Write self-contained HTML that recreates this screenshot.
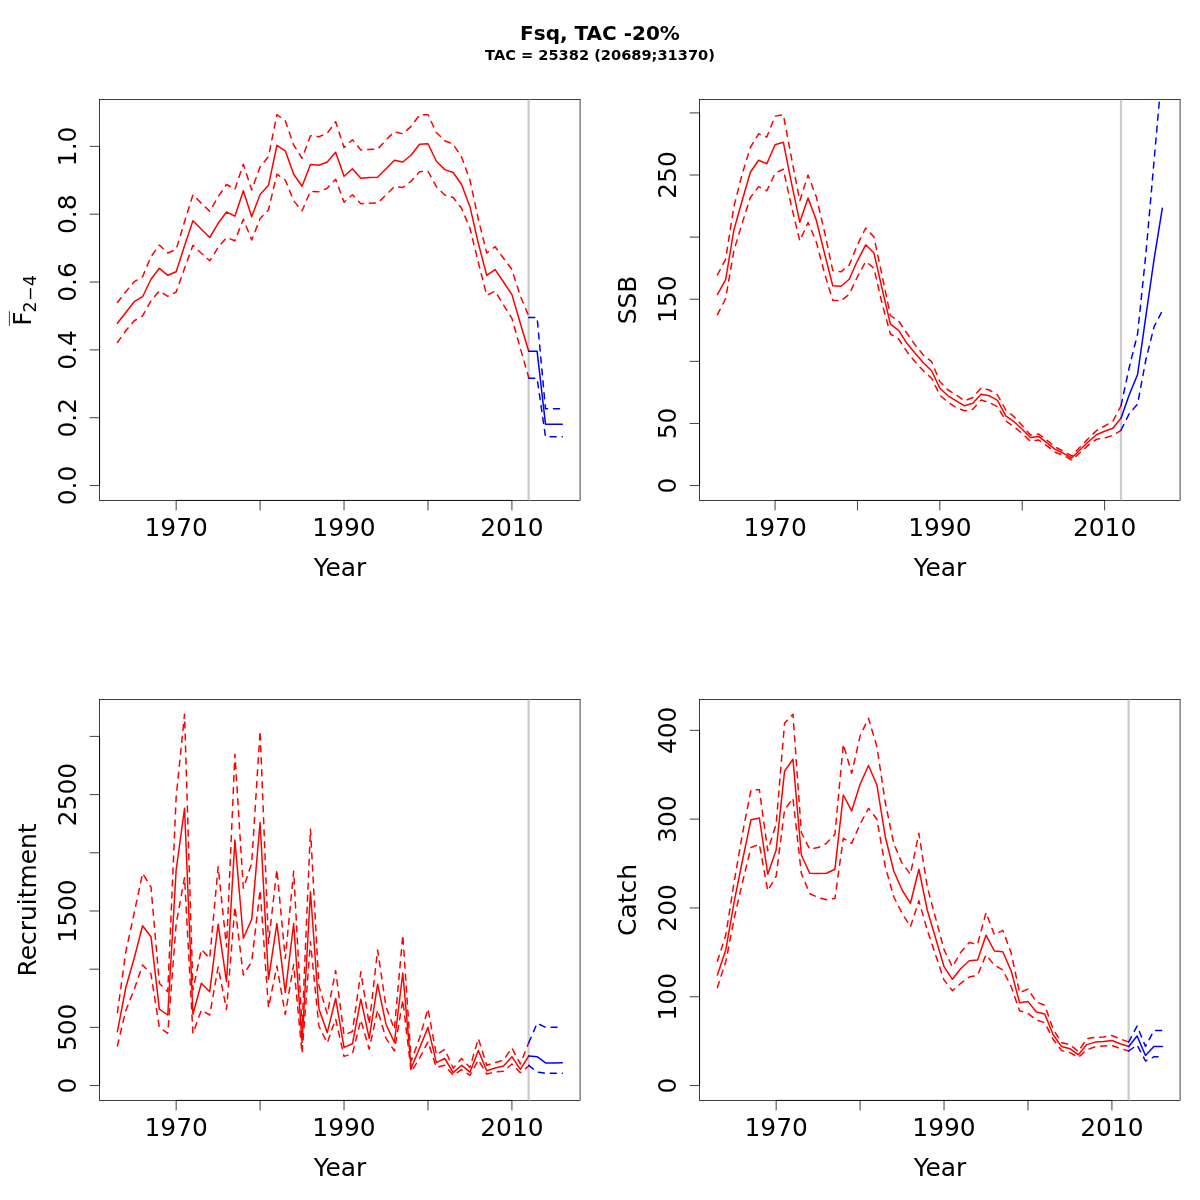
<!DOCTYPE html>
<html><head><meta charset="utf-8"><title>Fsq, TAC -20%</title>
<style>
html,body{margin:0;padding:0;background:#fff;}
svg{display:block;font-family:"DejaVu Sans","Liberation Sans",sans-serif;}
.box{fill:none;stroke:#000;stroke-width:.75;}
.tk{stroke:#000;stroke-width:.75;fill:none;}
.r,.rd,.b,.bd{fill:none;stroke-width:1.5;stroke-linejoin:round;stroke-linecap:round;}
.r,.rd{stroke:#ff0000;}
.b,.bd{stroke:#0000ff;}
.rd,.bd{stroke-dasharray:6 6;}
.v{stroke:#cccccc;stroke-width:2.25;}
.ax{font-size:24.9px;fill:#000;text-anchor:middle;}
.t1{font-size:20px;font-weight:bold;text-anchor:middle;}
.t2{font-size:14.6px;font-weight:bold;text-anchor:middle;}
</style></head><body>
<svg width="1200" height="1200" viewBox="0 0 1200 1200">
<rect x="0" y="0" width="1200" height="1200" fill="#ffffff"/>
<text class="t1" x="600" y="40">Fsq, TAC -20%</text>
<text class="t2" x="600" y="59.5">TAC = 25382 (20689;31370)</text>

<g>
<clipPath id="cpF"><rect x="99.60" y="99.60" width="480.48" height="400.8"/></clipPath>
<rect class="box" x="99.60" y="99.60" width="480.48" height="400.8"/>
<path class="tk" d="M176.16 500.40H511.92M176.16 500.40v9.96M260.10 500.40v9.96M344.04 500.40v9.96M427.98 500.40v9.96M511.92 500.40v9.96"/>
<text class="ax" x="176.16" y="536.1">1970</text>
<text class="ax" x="344.04" y="536.1">1990</text>
<text class="ax" x="511.92" y="536.1">2010</text>
<text class="ax" x="340" y="575.8">Year</text>
<path class="tk" d="M99.60 146.36V485.56M99.60 485.56h-9.96M99.60 417.72h-9.96M99.60 349.88h-9.96M99.60 282.04h-9.96M99.60 214.20h-9.96M99.60 146.36h-9.96"/>
<text class="ax" transform="translate(76 485.56) rotate(-90)">0.0</text>
<text class="ax" transform="translate(76 417.72) rotate(-90)">0.2</text>
<text class="ax" transform="translate(76 349.88) rotate(-90)">0.4</text>
<text class="ax" transform="translate(76 282.04) rotate(-90)">0.6</text>
<text class="ax" transform="translate(76 214.20) rotate(-90)">0.8</text>
<text class="ax" transform="translate(76 146.36) rotate(-90)">1.0</text>
<g transform="translate(31 300) rotate(-90)"><text class="ax" style="text-anchor:start"><tspan x="-25.8">F</tspan><tspan x="-12.6" dy="5" style="font-size:17.4px;letter-spacing:.5px">2−4</tspan></text><line x1="-25.8" x2="-11.2" y1="-21.6" y2="-21.6" stroke="#000" stroke-width=".75"/></g>
<g clip-path="url(#cpF)">
<line class="v" x1="528.61" x2="528.61" y1="99.60" y2="500.40"/>
<polyline class="r" points="117.40,323.30 125.79,312.50 134.19,301.70 142.58,296.70 150.98,279.20 159.37,268.30 167.76,275.30 176.16,271.70 184.55,245.80 192.95,220.80 201.34,229.20 209.73,237.50 218.13,223.30 226.52,212.00 234.92,216.20 243.31,190.80 251.70,216.70 260.10,194.50 268.49,185.30 276.89,145.30 285.28,150.80 293.67,174.20 302.07,186.30 310.46,164.50 318.86,165.30 327.25,162.00 335.64,152.20 344.04,176.20 352.43,168.70 360.83,178.30 369.22,177.50 377.61,177.20 386.01,168.70 394.40,160.30 402.80,162.00 411.19,155.00 419.58,144.20 427.98,143.70 436.37,161.30 444.77,169.60 453.16,172.50 461.55,184.50 469.95,206.70 478.34,243.30 486.74,275.40 495.13,269.60 503.52,282.00 511.92,294.60 520.31,323.30 528.71,351.30"/>
<polyline class="rd" points="117.40,342.50 125.79,330.80 134.19,320.80 142.58,315.80 150.98,300.80 159.37,290.80 167.76,296.30 176.16,292.00 184.55,268.30 192.95,245.30 201.34,253.30 209.73,260.80 218.13,247.50 226.52,237.50 234.92,240.80 243.31,219.20 251.70,240.00 260.10,218.50 268.49,210.00 276.89,174.20 285.28,180.00 293.67,200.80 302.07,210.80 310.46,191.30 318.86,191.70 327.25,188.30 335.64,179.20 344.04,202.20 352.43,194.70 360.83,203.70 369.22,203.30 377.61,203.00 386.01,195.00 394.40,186.70 402.80,187.50 411.19,181.20 419.58,171.70 427.98,171.20 436.37,186.70 444.77,195.00 453.16,197.50 461.55,208.30 469.95,228.30 478.34,262.50 486.74,295.30 495.13,291.20 503.52,305.00 511.92,318.30 520.31,348.30 528.71,377.50"/>
<polyline class="rd" points="117.40,302.50 125.79,291.70 134.19,281.70 142.58,276.70 150.98,256.70 159.37,245.00 167.76,253.00 176.16,249.50 184.55,221.70 192.95,194.70 201.34,203.30 209.73,211.30 218.13,196.70 226.52,184.50 234.92,189.20 243.31,164.20 251.70,190.00 260.10,166.70 268.49,156.70 276.89,114.70 285.28,120.80 293.67,145.00 302.07,158.30 310.46,135.80 318.86,136.70 327.25,133.30 335.64,121.70 344.04,147.50 352.43,139.70 360.83,150.00 369.22,149.50 377.61,149.20 386.01,140.00 394.40,131.70 402.80,133.80 411.19,126.30 419.58,115.00 427.98,114.70 436.37,132.50 444.77,140.80 453.16,144.20 461.55,157.00 469.95,180.00 478.34,219.20 486.74,253.00 495.13,246.70 503.52,258.30 511.92,269.50 520.31,296.00 528.71,316.00"/>
<polyline class="b" points="528.71,351.20 537.10,351.20 545.49,424.20 553.89,424.20 562.28,424.20"/>
<polyline class="bd" points="528.71,378.30 537.10,378.30 545.49,436.70 553.89,436.70 562.28,436.70"/>
<polyline class="bd" points="528.71,317.50 537.10,317.50 545.49,408.70 553.89,408.70 562.28,408.70"/>
</g>
</g>
<g>
<clipPath id="cpSSB"><rect x="699.60" y="99.60" width="480.48" height="400.8"/></clipPath>
<rect class="box" x="699.60" y="99.60" width="480.48" height="400.8"/>
<path class="tk" d="M775.07 500.40H1104.62M775.07 500.40v9.96M857.46 500.40v9.96M939.84 500.40v9.96M1022.23 500.40v9.96M1104.62 500.40v9.96"/>
<text class="ax" x="775.07" y="536.1">1970</text>
<text class="ax" x="939.84" y="536.1">1990</text>
<text class="ax" x="1104.62" y="536.1">2010</text>
<text class="ax" x="940" y="575.8">Year</text>
<path class="tk" d="M699.60 112.90V485.56M699.60 485.56h-9.96M699.60 423.45h-9.96M699.60 361.34h-9.96M699.60 299.23h-9.96M699.60 237.12h-9.96M699.60 175.01h-9.96M699.60 112.90h-9.96"/>
<text class="ax" transform="translate(676 485.56) rotate(-90)">0</text>
<text class="ax" transform="translate(676 423.45) rotate(-90)">50</text>
<text class="ax" transform="translate(676 299.23) rotate(-90)">150</text>
<text class="ax" transform="translate(676 175.01) rotate(-90)">250</text>
<text class="ax" transform="translate(636 300) rotate(-90)">SSB</text>
<g clip-path="url(#cpSSB)">
<line class="v" x1="1121.00" x2="1121.00" y1="99.60" y2="500.40"/>
<polyline class="r" points="717.40,294.70 725.64,279.70 733.88,230.00 742.12,200.80 750.35,172.20 758.59,160.30 766.83,163.80 775.07,144.70 783.31,142.20 791.55,183.30 799.79,222.20 808.03,198.00 816.26,220.00 824.50,253.30 832.74,285.80 840.98,286.30 849.22,279.20 857.46,260.80 865.70,244.80 873.94,253.00 882.17,289.00 890.41,324.20 898.65,330.40 906.89,343.30 915.13,353.30 923.37,362.80 931.61,370.80 939.84,388.30 948.08,395.80 956.32,400.80 964.56,405.80 972.80,403.30 981.04,394.20 989.28,395.80 997.52,400.30 1005.75,415.80 1013.99,421.70 1022.23,429.20 1030.47,437.50 1038.71,436.40 1046.95,442.90 1055.19,449.40 1063.43,453.30 1071.66,458.00 1079.90,450.00 1088.14,442.00 1096.38,434.70 1104.62,431.30 1112.86,428.30 1121.10,418.00"/>
<polyline class="rd" points="717.40,314.70 725.64,298.60 733.88,250.80 742.12,223.30 750.35,197.50 758.59,186.70 766.83,190.80 775.07,173.30 783.31,169.20 791.55,206.70 799.79,240.80 808.03,222.50 816.26,241.70 824.50,273.30 832.74,300.20 840.98,300.80 849.22,294.20 857.46,276.70 865.70,261.50 873.94,268.30 882.17,304.00 890.41,334.00 898.65,339.00 906.89,351.70 915.13,361.70 923.37,370.80 931.61,378.30 939.84,395.00 948.08,402.50 956.32,407.50 964.56,410.80 972.80,409.20 981.04,400.00 989.28,402.50 997.52,406.70 1005.75,420.80 1013.99,426.70 1022.23,433.50 1030.47,441.30 1038.71,440.00 1046.95,445.90 1055.19,452.20 1063.43,455.30 1071.66,460.00 1079.90,452.70 1088.14,445.30 1096.38,439.30 1104.62,438.00 1112.86,435.30 1121.10,430.30"/>
<polyline class="rd" points="717.40,275.00 725.64,259.20 733.88,206.70 742.12,174.20 750.35,147.50 758.59,133.80 766.83,137.00 775.07,116.20 783.31,114.70 791.55,158.30 799.79,200.80 808.03,175.00 816.26,196.70 824.50,231.70 832.74,270.40 840.98,271.80 849.22,265.00 857.46,244.80 865.70,228.00 873.94,237.00 882.17,276.00 890.41,315.50 898.65,321.00 906.89,333.30 915.13,345.00 923.37,355.00 931.61,361.70 939.84,381.70 948.08,390.00 956.32,395.00 964.56,400.80 972.80,397.50 981.04,388.00 989.28,390.00 997.52,395.00 1005.75,410.00 1013.99,416.70 1022.23,425.50 1030.47,435.10 1038.71,434.00 1046.95,440.30 1055.19,447.00 1063.43,451.30 1071.66,456.00 1079.90,447.30 1088.14,438.70 1096.38,430.70 1104.62,426.00 1112.86,421.30 1121.10,405.60"/>
<polyline class="b" points="1121.10,418.00 1129.34,394.50 1137.57,374.50 1145.81,316.70 1154.05,259.40 1162.29,208.30"/>
<polyline class="bd" points="1121.10,430.00 1129.34,413.50 1137.57,404.20 1145.81,360.00 1154.05,326.70 1162.29,310.80"/>
<polyline class="bd" points="1121.10,405.30 1129.34,367.00 1137.57,334.00 1145.81,254.60 1154.05,161.00 1162.29,67.40"/>
</g>
</g>
<g>
<clipPath id="cpR"><rect x="99.60" y="699.60" width="480.48" height="400.8"/></clipPath>
<rect class="box" x="99.60" y="699.60" width="480.48" height="400.8"/>
<path class="tk" d="M176.16 1100.40H511.92M176.16 1100.40v9.96M260.10 1100.40v9.96M344.04 1100.40v9.96M427.98 1100.40v9.96M511.92 1100.40v9.96"/>
<text class="ax" x="176.16" y="1136.1">1970</text>
<text class="ax" x="344.04" y="1136.1">1990</text>
<text class="ax" x="511.92" y="1136.1">2010</text>
<text class="ax" x="340" y="1175.8">Year</text>
<path class="tk" d="M99.60 736.42V1085.56M99.60 1085.56h-9.96M99.60 1027.37h-9.96M99.60 969.18h-9.96M99.60 910.99h-9.96M99.60 852.80h-9.96M99.60 794.61h-9.96M99.60 736.42h-9.96"/>
<text class="ax" transform="translate(76 1085.56) rotate(-90)">0</text>
<text class="ax" transform="translate(76 1027.37) rotate(-90)">500</text>
<text class="ax" transform="translate(76 910.99) rotate(-90)">1500</text>
<text class="ax" transform="translate(76 794.61) rotate(-90)">2500</text>
<text class="ax" transform="translate(36 900) rotate(-90)">Recruitment</text>
<g clip-path="url(#cpR)">
<line class="v" x1="528.61" x2="528.61" y1="699.60" y2="1100.40"/>
<polyline class="r" points="117.40,1031.70 125.79,987.50 134.19,958.30 142.58,925.80 150.98,936.70 159.37,1009.20 167.76,1015.00 176.16,870.00 184.55,808.30 192.95,1014.20 201.34,983.30 209.73,991.70 218.13,924.20 226.52,981.70 234.92,840.00 243.31,938.30 251.70,919.20 260.10,822.50 268.49,979.20 276.89,923.60 285.28,992.30 293.67,923.50 302.07,1042.50 310.46,891.70 318.86,1008.80 327.25,1032.60 335.64,998.50 344.04,1047.40 352.43,1043.80 360.83,999.20 369.22,1038.30 377.61,984.20 386.01,1024.20 394.40,1042.50 402.80,973.00 411.19,1068.30 419.58,1048.00 427.98,1027.40 436.37,1062.60 444.77,1058.50 453.16,1072.60 461.55,1065.20 469.95,1072.20 478.34,1050.50 486.74,1070.70 495.13,1068.00 503.52,1066.00 511.92,1056.70 520.31,1069.30 528.71,1056.00"/>
<polyline class="rd" points="117.40,1045.80 125.79,1010.50 134.19,989.50 142.58,965.00 150.98,974.00 159.37,1027.50 167.76,1033.30 176.16,924.00 184.55,877.50 192.95,1033.50 201.34,1010.00 209.73,1015.00 218.13,967.00 226.52,1009.50 234.92,906.70 243.31,975.00 251.70,961.70 260.10,890.00 268.49,1007.50 276.89,966.00 285.28,1014.50 293.67,964.50 302.07,1053.30 310.46,941.70 318.86,1026.00 327.25,1043.00 335.64,1019.00 344.04,1056.40 352.43,1053.80 360.83,1020.00 369.22,1049.20 377.61,1010.00 386.01,1038.30 394.40,1050.80 402.80,1000.00 411.19,1071.70 419.58,1058.30 427.98,1041.80 436.37,1067.40 444.77,1065.20 453.16,1075.20 461.55,1069.60 469.95,1075.30 478.34,1060.00 486.74,1074.00 495.13,1072.00 503.52,1071.30 511.92,1064.00 520.31,1072.70 528.71,1066.00"/>
<polyline class="rd" points="117.40,1012.50 125.79,952.00 134.19,913.00 142.58,873.30 150.98,887.00 159.37,983.30 167.76,991.70 176.16,797.00 184.55,714.20 192.95,990.00 201.34,949.50 209.73,958.30 218.13,866.70 226.52,947.00 234.92,754.20 243.31,888.30 251.70,863.30 260.10,730.80 268.49,943.50 276.89,869.50 285.28,958.50 293.67,871.30 302.07,1027.50 310.46,829.20 318.86,985.50 327.25,1014.00 335.64,970.50 344.04,1035.00 352.43,1031.50 360.83,971.80 369.22,1024.20 377.61,950.00 386.01,1006.70 394.40,1029.20 402.80,935.00 411.19,1061.00 419.58,1038.00 427.98,1008.90 436.37,1054.80 444.77,1049.30 453.16,1068.20 461.55,1058.50 469.95,1067.50 478.34,1038.50 486.74,1065.30 495.13,1062.70 503.52,1060.00 511.92,1048.00 520.31,1064.00 528.71,1042.70"/>
<polyline class="b" points="528.71,1056.00 537.10,1056.70 545.49,1062.90 553.89,1062.90 562.28,1062.70"/>
<polyline class="bd" points="528.71,1065.30 537.10,1072.00 545.49,1073.30 553.89,1073.30 562.28,1073.30"/>
<polyline class="bd" points="528.71,1042.70 537.10,1023.30 545.49,1027.30 553.89,1027.30 562.28,1027.30"/>
</g>
</g>
<g>
<clipPath id="cpC"><rect x="699.60" y="699.60" width="480.48" height="400.8"/></clipPath>
<rect class="box" x="699.60" y="699.60" width="480.48" height="400.8"/>
<path class="tk" d="M776.16 1100.40H1111.92M776.16 1100.40v9.96M860.10 1100.40v9.96M944.04 1100.40v9.96M1027.98 1100.40v9.96M1111.92 1100.40v9.96"/>
<text class="ax" x="776.16" y="1136.1">1970</text>
<text class="ax" x="944.04" y="1136.1">1990</text>
<text class="ax" x="1111.92" y="1136.1">2010</text>
<text class="ax" x="940" y="1175.8">Year</text>
<path class="tk" d="M699.60 730.32V1085.56M699.60 1085.56h-9.96M699.60 996.75h-9.96M699.60 907.94h-9.96M699.60 819.13h-9.96M699.60 730.32h-9.96"/>
<text class="ax" transform="translate(676 1085.56) rotate(-90)">0</text>
<text class="ax" transform="translate(676 996.75) rotate(-90)">100</text>
<text class="ax" transform="translate(676 907.94) rotate(-90)">200</text>
<text class="ax" transform="translate(676 819.13) rotate(-90)">300</text>
<text class="ax" transform="translate(676 730.32) rotate(-90)">400</text>
<text class="ax" transform="translate(636 900) rotate(-90)">Catch</text>
<g clip-path="url(#cpC)">
<line class="v" x1="1128.61" x2="1128.61" y1="699.60" y2="1100.40"/>
<polyline class="r" points="717.40,975.00 725.79,950.00 734.19,901.70 742.58,860.00 750.98,819.70 759.37,818.00 767.76,874.20 776.16,850.00 784.55,771.30 792.95,759.20 801.34,855.00 809.73,873.20 818.13,873.60 826.52,873.20 834.92,869.20 843.31,795.00 851.70,810.80 860.10,784.20 868.49,765.50 876.89,785.00 885.28,836.70 893.67,870.80 902.07,890.00 910.46,903.30 918.86,869.20 927.25,910.00 935.64,938.30 944.04,966.70 952.43,979.30 960.83,968.50 969.22,960.80 977.61,960.00 986.01,935.20 994.40,951.00 1002.80,951.70 1011.19,971.00 1019.58,1002.70 1027.98,1001.60 1036.37,1012.00 1044.77,1014.00 1053.16,1034.70 1061.55,1046.60 1069.95,1048.70 1078.34,1054.80 1086.74,1044.60 1095.13,1042.10 1103.52,1041.50 1111.92,1040.50 1120.31,1043.80 1128.71,1046.50"/>
<polyline class="rd" points="717.40,987.50 725.79,961.70 734.19,918.30 742.58,882.00 750.98,847.50 759.37,844.20 767.76,890.80 776.16,876.20 784.55,810.00 792.95,798.30 801.34,873.30 809.73,893.70 818.13,897.50 826.52,899.80 834.92,898.50 843.31,838.30 851.70,843.30 860.10,824.20 868.49,808.30 876.89,819.20 885.28,866.50 893.67,896.70 902.07,913.30 910.46,926.70 918.86,900.80 927.25,930.00 935.64,955.00 944.04,980.00 952.43,990.70 960.83,983.30 969.22,977.00 977.61,975.20 986.01,954.80 994.40,965.20 1002.80,970.00 1011.19,986.70 1019.58,1010.70 1027.98,1013.30 1036.37,1020.00 1044.77,1022.70 1053.16,1039.30 1061.55,1050.60 1069.95,1052.60 1078.34,1057.40 1086.74,1049.70 1095.13,1046.80 1103.52,1046.00 1111.92,1045.50 1120.31,1048.50 1128.71,1051.00"/>
<polyline class="rd" points="717.40,961.30 725.79,935.00 734.19,881.70 742.58,833.00 750.98,790.00 759.37,789.70 767.76,850.80 776.16,824.00 784.55,723.30 792.95,714.20 801.34,832.50 809.73,849.20 818.13,847.50 826.52,843.30 834.92,834.20 843.31,744.20 851.70,773.30 860.10,735.80 868.49,718.30 876.89,746.70 885.28,802.50 893.67,843.30 902.07,863.30 910.46,874.20 918.86,833.30 927.25,886.70 935.64,918.30 944.04,949.60 952.43,967.00 960.83,952.20 969.22,942.60 977.61,944.20 986.01,912.50 994.40,934.80 1002.80,930.40 1011.19,953.00 1019.58,992.70 1027.98,989.00 1036.37,1002.00 1044.77,1005.30 1053.16,1029.30 1061.55,1042.70 1069.95,1044.60 1078.34,1051.60 1086.74,1038.60 1095.13,1037.40 1103.52,1037.00 1111.92,1035.50 1120.31,1039.00 1128.71,1042.00"/>
<polyline class="b" points="1128.71,1046.50 1137.10,1036.00 1145.49,1055.50 1153.89,1046.50 1162.28,1046.50"/>
<polyline class="bd" points="1128.71,1051.00 1137.10,1045.00 1145.49,1061.00 1153.89,1056.80 1162.28,1056.80"/>
<polyline class="bd" points="1128.71,1042.00 1137.10,1026.00 1145.49,1046.50 1153.89,1030.50 1162.28,1030.50"/>
</g>
</g>
</svg></body></html>
